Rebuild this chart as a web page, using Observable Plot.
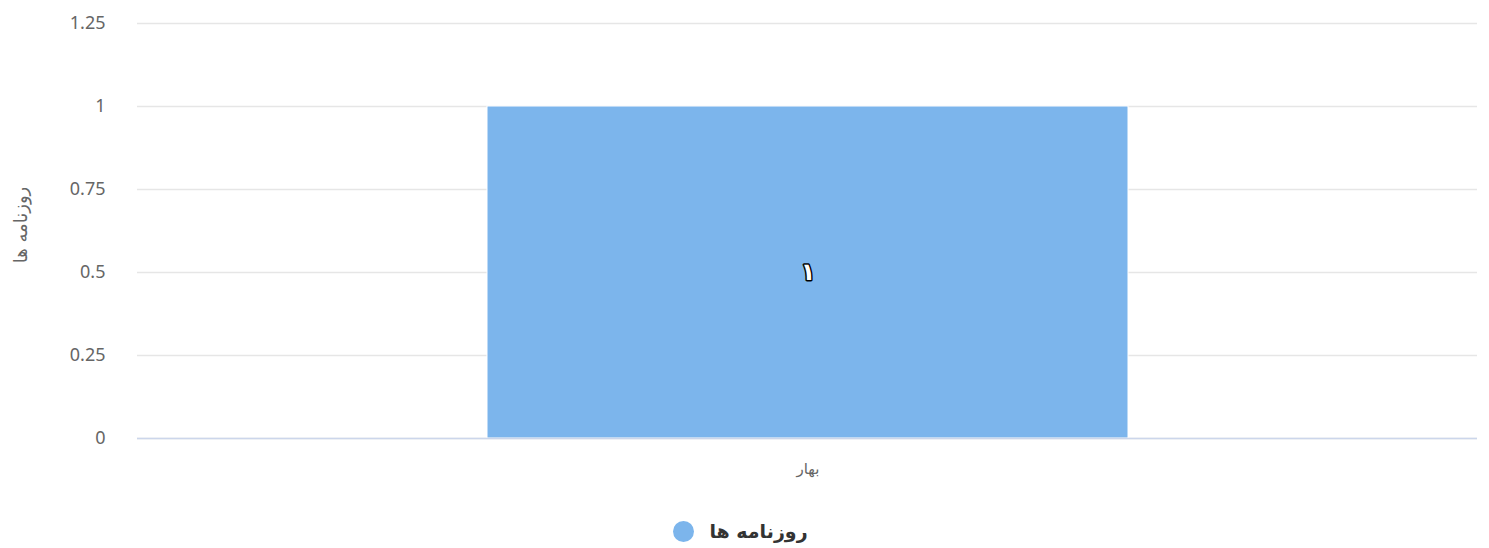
<!DOCTYPE html>
<html>
<head>
<meta charset="utf-8">
<script src="https://cdn.jsdelivr.net/npm/d3@7"></script>
<script src="https://cdn.jsdelivr.net/npm/@observablehq/plot@0.6"></script>
<style>
  html, body { margin: 0; padding: 0; background: #fff; }
  body { width: 1489px; height: 548px; overflow: hidden; font-family: "Noto Sans", "DejaVu Sans", sans-serif; }
  #legend { height: 48px; display: flex; justify-content: center; align-items: flex-start; padding-top: 0; }
  #legend .item { display: flex; align-items: center; gap: 15px; margin-top: 21px; margin-left: -8px; }
  #legend .sym { width: 21px; height: 21px; border-radius: 50%; background: #7cb5ec; }
  #legend .lab { font-weight: bold; font-size: 19px; color: #333; direction: rtl; font-family: "DejaVu Sans", sans-serif; line-height: 21px; }
</style>
</head>
<body>
<div id="chart"></div>
<div id="legend"></div>
<script>
const categories = ["بهار"];
const values = [1];
const dataLabels = ["۱"];
const seriesName = "روزنامه ها";
const yTicks = [0, 0.25, 0.5, 0.75, 1, 1.25];

const data = categories.map((c, i) => ({category: c, value: values[i], label: dataLabels[i]}));

const chart = Plot.plot({
  width: 1489,
  height: 500,
  marginTop: 23,
  marginBottom: 62,
  marginLeft: 137,
  marginRight: 12,
  style: {fontFamily: "'Noto Sans', 'DejaVu Sans', sans-serif", color: "#666", background: "#fff"},
  x: {domain: categories, padding: 0.353, label: null},
  y: {domain: [0, 1.25], ticks: yTicks, label: null},
  marks: [
    Plot.gridY(yTicks, {stroke: "#e6e6e6", strokeOpacity: 1, strokeWidth: 1.5}),
    Plot.barY(data, {x: "category", y: "value", fill: "#7cb5ec", stroke: "#fff", strokeWidth: 1}),
    Plot.ruleY([0], {stroke: "#ccd6eb", strokeWidth: 1.5}),
    Plot.axisY(yTicks, {tickSize: 0, tickPadding: 32, fontSize: 18, fill: "#666", tickFormat: d => String(d), label: null}),
    Plot.text([seriesName], {frameAnchor: "left", dx: -116, dy: -6, rotate: -90, textAnchor: "middle", text: d => d,
      fontSize: 18, fill: "#666", fontFamily: "'DejaVu Sans', sans-serif"}),
    Plot.axisX({tickSize: 0, tickPadding: 25, fontSize: 15, fill: "#666", label: null, fontFamily: "'DejaVu Sans', sans-serif"}),
    Plot.text(data, {x: "category", y: d => d.value / 2, text: "label", fill: "#fff", stroke: "#000", strokeWidth: 3,
      fontWeight: "bold", fontSize: 24, fontFamily: "'DejaVu Sans', sans-serif"})
  ]
});
document.getElementById("chart").appendChild(chart);

const legend = document.getElementById("legend");
legend.innerHTML = `<div class="item"><div class="sym"></div><div class="lab">${seriesName}</div></div>`;
</script>
</body>
</html>
